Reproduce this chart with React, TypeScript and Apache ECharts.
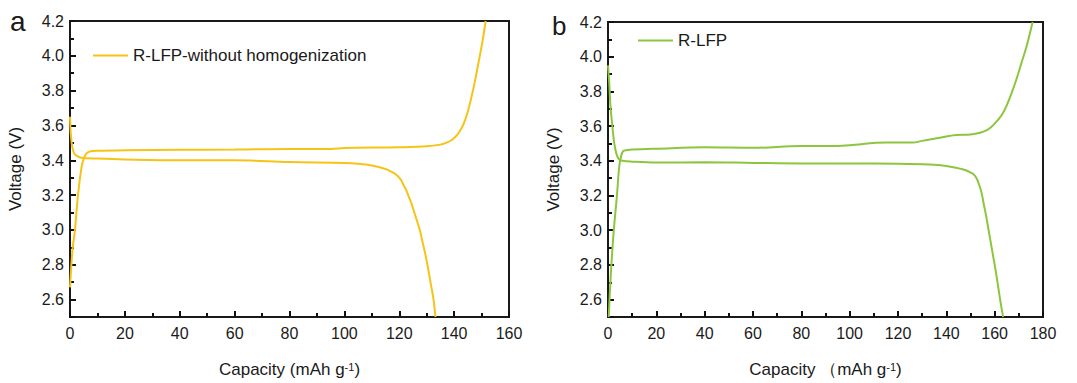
import React, { useEffect, useRef } from "react";
import * as echarts from "echarts";

// Panel a: R-LFP-without homogenization
const aChargeCap = [0, 0.5, 1, 1.8, 2.9, 4.2, 5, 6, 7.5, 10, 20, 40, 60, 80, 95, 100, 120, 130, 135, 137, 139, 140.5, 142, 143.5, 145, 147, 149, 150.3, 151.5];
const aChargeV = [2.67, 2.8, 2.9, 3.0, 3.2, 3.36, 3.41, 3.44, 3.452, 3.455, 3.457, 3.46, 3.462, 3.465, 3.465, 3.47, 3.475, 3.48, 3.49, 3.5, 3.515, 3.535, 3.565, 3.61, 3.68, 3.81, 3.97, 4.08, 4.2];
const aDischargeCap = [0, 0.3, 0.8, 1.5, 2.5, 4, 10, 20, 40, 60, 80, 100, 105, 110, 115, 117, 119, 120.5, 121.5, 122.5, 123.5, 124.5, 125.5, 126.5, 127.5, 128.5, 129.5, 130.5, 131.5, 132.5, 133.2];
const aDischargeV = [3.65, 3.55, 3.48, 3.44, 3.425, 3.415, 3.41, 3.405, 3.4, 3.4, 3.39, 3.385, 3.38, 3.37, 3.35, 3.335, 3.315, 3.29, 3.26, 3.23, 3.19, 3.15, 3.1, 3.05, 3.0, 2.93, 2.86, 2.78, 2.69, 2.6, 2.5];

// Panel b: R-LFP
const bChargeCap = [0.3, 0.8, 1.4, 2.4, 3.7, 4.6, 5.3, 6.2, 8, 10, 20, 40, 60, 80, 93, 100, 115, 126, 130, 135, 140, 144, 150, 154, 157, 159, 161, 163, 165, 167, 169, 171, 173, 174.5, 175.7];
const bChargeV = [2.5, 2.65, 2.8, 3.0, 3.2, 3.36, 3.42, 3.455, 3.462, 3.465, 3.47, 3.478, 3.475, 3.485, 3.485, 3.49, 3.505, 3.505, 3.515, 3.527, 3.54, 3.549, 3.552, 3.562, 3.578, 3.6, 3.63, 3.665, 3.72, 3.79, 3.87, 3.96, 4.05, 4.13, 4.2];
const bDischargeCap = [0, 0.5, 1, 1.8, 2.6, 3.5, 4.5, 6, 10, 20, 40, 60, 80, 100, 120, 130, 135, 140, 144, 147, 149, 151, 152.5, 153.5, 154.5, 155.5, 156.5, 157.5, 158.5, 159.5, 160.5, 161.5, 162.5, 163.5];
const bDischargeV = [3.95, 3.85, 3.72, 3.6, 3.5, 3.44, 3.41, 3.4, 3.395, 3.39, 3.392, 3.388, 3.385, 3.385, 3.383, 3.38, 3.377, 3.37, 3.36, 3.35, 3.34, 3.325, 3.3, 3.265, 3.22, 3.15, 3.08, 3.0, 2.92, 2.84, 2.76, 2.67, 2.58, 2.5];

const nameA = "R-LFP-without homogenization";
const nameB = "R-LFP";
const xTitleA = "Capacity (mAh g{sup|-1})";
const xTitleB = "Capacity （mAh g{sup|-1})";
const yTitle = "Voltage (V)";
const xMaxA = 160;
const xMaxB = 180;
const yMin = 2.5;
const yMax = 4.2;

const colorA = "#F6C416";
const colorB = "#8CC63E";
const ink = "#1a1a1a";
const tickInk = "#111111";
const font = "'Liberation Sans', Arial, Helvetica, sans-serif";

const zip = (xs: number[], ys: number[]) => xs.map((x, i) => [x, ys[i]]);

function xAxisCfg(idx: number, max: number, title: string) {
  return {
    type: "value",
    gridIndex: idx,
    min: 0,
    max,
    interval: 20,
    name: title,
    nameLocation: "middle",
    nameGap: 44,
    nameTextStyle: {
      fontSize: 17,
      color: ink,
      fontFamily: font,
      rich: { sup: { fontSize: 11, verticalAlign: "top", color: ink, fontFamily: font } },
    },
    axisLine: { show: true, onZero: false, lineStyle: { color: ink, width: 2 } },
    axisTick: { show: true, inside: true, length: 6, lineStyle: { color: tickInk, width: 2 } },
    minorTick: { show: true, splitNumber: 2, length: 4, lineStyle: { color: tickInk, width: 2 } },
    axisLabel: { fontSize: 16, color: ink, fontFamily: font, margin: 8 },
    splitLine: { show: false },
  };
}

function yAxisCfg(idx: number) {
  return {
    type: "value",
    gridIndex: idx,
    min: yMin,
    max: yMax,
    splitNumber: 8,
    name: yTitle,
    nameLocation: "middle",
    nameGap: 46,
    nameTextStyle: { fontSize: 17, color: ink, fontFamily: font },
    axisLine: { show: true, onZero: false, lineStyle: { color: ink, width: 2 } },
    axisTick: { show: true, inside: true, length: 6, lineStyle: { color: tickInk, width: 2 } },
    minorTick: { show: true, splitNumber: 2, length: 4, lineStyle: { color: tickInk, width: 2 } },
    axisLabel: {
      fontSize: 16,
      color: ink,
      fontFamily: font,
      margin: 6,
      showMinLabel: false,
      formatter: (v: number) => v.toFixed(1),
    },
    splitLine: { show: false },
  };
}

function lineSeries(name: string, data: number[][], color: string, idx: number) {
  return {
    type: "line",
    name,
    xAxisIndex: idx,
    yAxisIndex: idx,
    data,
    showSymbol: false,
    symbol: "none",
    smooth: 0.35,
    lineStyle: { color, width: 2 },
    itemStyle: { color },
    clip: true,
  };
}

export default function App() {
  const ref = useRef<HTMLDivElement>(null);
  useEffect(() => {
    if (!ref.current) return;
    const chart = echarts.init(ref.current, undefined, { renderer: "svg" });
    chart.setOption({
      animation: false,
      backgroundColor: "#ffffff",
      textStyle: { fontFamily: font },
      grid: [
        { left: 70, top: 21, width: 439, height: 303, show: true, borderColor: ink, borderWidth: 2, backgroundColor: "transparent" },
        { left: 608, top: 22, width: 435, height: 301, show: true, borderColor: ink, borderWidth: 2, backgroundColor: "transparent" },
      ],
      xAxis: [xAxisCfg(0, xMaxA, xTitleA), xAxisCfg(1, xMaxB, xTitleB)],
      yAxis: [yAxisCfg(0), yAxisCfg(1)],
      legend: [
        {
          data: [nameA],
          left: 88,
          top: 42,
          icon: "rect",
          itemWidth: 35,
          itemHeight: 2,
          itemGap: 5,
          textStyle: { fontSize: 17, color: ink, fontFamily: font },
          selectedMode: false,
        },
        {
          data: [nameB],
          left: 633,
          top: 27,
          icon: "rect",
          itemWidth: 35,
          itemHeight: 2,
          itemGap: 5,
          textStyle: { fontSize: 17, color: ink, fontFamily: font },
          selectedMode: false,
        },
      ],
      graphic: [
        { type: "text", left: 10, top: 7, style: { text: "a", fontSize: 28, fill: ink, fontFamily: font } },
        { type: "text", left: 552, top: 13, style: { text: "b", fontSize: 26, fill: ink, fontFamily: font } },
      ],
      series: [
        lineSeries(nameA, zip(aChargeCap, aChargeV), colorA, 0),
        lineSeries(nameA, zip(aDischargeCap, aDischargeV), colorA, 0),
        lineSeries(nameB, zip(bChargeCap, bChargeV), colorB, 1),
        lineSeries(nameB, zip(bDischargeCap, bDischargeV), colorB, 1),
      ],
    });
    return () => chart.dispose();
  }, []);
  return (
    <div
      ref={ref}
      style={{ position: "fixed", left: 0, top: 0, width: 1077, height: 383, background: "#fff" }}
    />
  );
}
